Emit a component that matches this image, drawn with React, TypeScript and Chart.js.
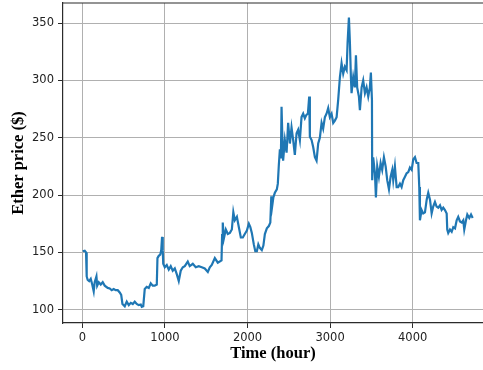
import React, { useEffect, useRef } from "react";
import { Chart, registerables } from "chart.js";

Chart.register(...registerables);

// Hourly ETH price trace (hour index, USD)
const hours: number[] = [
  4, 28, 44, 52, 64, 82, 101, 119, 137, 149, 170, 179, 198, 222, 246, 270, 307, 331, 355, 379,
  403, 428, 452, 470, 485, 513, 537, 562, 586, 610, 634, 658, 682, 707, 719, 737, 755, 779, 804, 828,
  852, 876, 901, 909, 925, 943, 955, 965, 973, 979, 998, 1022, 1046, 1070, 1094, 1119, 1143, 1167, 1191, 1216,
  1240, 1276, 1300, 1337, 1373, 1409, 1446, 1482, 1519, 1543, 1567, 1604, 1640, 1685, 1692, 1700, 1713, 1737, 1761, 1786,
  1810, 1828, 1846, 1871, 1895, 1919, 1943, 1967, 1992, 2016, 2034, 2052, 2076, 2094, 2113, 2131, 2149, 2173, 2192, 2210,
  2234, 2258, 2276, 2288, 2298, 2313, 2331, 2355, 2367, 2379, 2392, 2404, 2412, 2422, 2431, 2452, 2473, 2492, 2513, 2533,
  2553, 2573, 2594, 2613, 2634, 2654, 2674, 2694, 2713, 2731, 2747, 2755, 2776, 2795, 2816, 2836, 2856, 2876, 2897, 2916,
  2937, 2957, 2977, 2997, 3018, 3038, 3058, 3079, 3098, 3119, 3139, 3159, 3179, 3200, 3212, 3228, 3240, 3252, 3260, 3280,
  3300, 3313, 3328, 3349, 3361, 3382, 3401, 3422, 3442, 3462, 3482, 3494, 3507, 3510, 3522, 3543, 3555, 3571, 3591, 3612,
  3631, 3652, 3673, 3692, 3713, 3733, 3753, 3765, 3785, 3806, 3825, 3846, 3866, 3886, 3907, 3927, 3947, 3967, 3988, 4007,
  4028, 4048, 4068, 4080, 4088, 4108, 4128, 4149, 4170, 4189, 4210, 4230, 4249, 4270, 4290, 4310, 4331, 4351, 4371, 4391,
  4412, 4419, 4431, 4452, 4473, 4492, 4513, 4533, 4552, 4573, 4594, 4613, 4625, 4646, 4662, 4686, 4707, 4727,
];

const prices: number[] = [
  151, 151.5, 150, 129, 126, 125, 127, 122, 116, 124, 129, 121, 124, 122, 124, 121, 119, 118.5, 117, 118,
  117, 117, 115, 113, 105, 103, 107, 104, 106, 105, 107, 105, 104, 104.5, 102.5, 103, 118, 120, 119, 123,
  121, 121, 122, 145, 147, 148, 152, 163.5, 152, 140, 137, 139, 135, 138, 134, 136, 131, 125, 134, 137,
  138, 142, 138, 140, 137, 138, 137, 136, 133, 137, 139, 145, 141, 143, 165, 176, 162, 170, 166, 167,
  170, 185, 178, 181, 172, 163, 163, 166, 169, 175, 172, 167, 157, 151, 151, 157, 154, 152, 156, 166,
  171, 173, 176, 199, 190, 198, 202, 205, 210, 226, 240, 232, 277, 250, 230, 248, 237, 263, 245, 259,
  248, 235, 254, 257, 248, 268, 271, 267, 270, 271, 286, 251, 248, 242, 233, 230, 245, 250, 263, 258,
  268, 271, 276, 268, 271, 263, 265, 268, 283, 303, 315, 306, 312, 309, 333, 355, 333, 303, 289, 303,
  294, 322, 294, 286, 274, 294, 300, 289, 294, 286, 294, 307, 283, 213, 233, 219, 198, 225, 216, 228,
  222, 233, 225, 213, 205, 216, 222, 213, 225, 207, 207, 210, 207, 213, 216, 219, 220, 224, 222, 231,
  233, 228, 228, 207, 178, 187, 184, 185, 196, 202, 196, 184, 190, 194, 190, 189, 191, 187, 189, 187,
  184, 170, 167, 170, 168, 172, 171, 178, 181, 177, 176, 178, 170, 178, 183, 180, 183, 180,
];

const xTickValues: number[] = [0, 1000, 2000, 3000, 4000];
const yTickValues: number[] = [100, 150, 200, 250, 300, 350];

const xLabel = "Time (hour)";
const yLabel = "Ether price ($)";

const SPINE = "#2b2b2b";
const GRID = "#b0b0b0";
const LINE = "#1f77b4";

const tickFont = { family: "'DejaVu Sans', sans-serif", size: 11.5 };
const titleFont = { family: "'Liberation Serif', 'Times New Roman', serif", size: 16.5, weight: "bold" as const };

// Draws the upper frame edge of the plotting area
const topFrame = {
  id: "topFrame",
  afterDraw(chart: Chart) {
    const { ctx, chartArea } = chart;
    ctx.save();
    ctx.strokeStyle = SPINE;
    ctx.lineWidth = 1.2;
    ctx.beginPath();
    ctx.moveTo(chartArea.left, chartArea.top);
    ctx.lineTo(chartArea.right, chartArea.top);
    ctx.stroke();
    ctx.restore();
  },
};

// Fixes each axis box to a set size and drops label overhang padding
const fixBox = (size: number) => (scale: any) => {
  if (scale.isHorizontal()) {
    scale.height = size;
    scale.paddingLeft = 0;
    scale.paddingRight = 0;
  } else {
    scale.width = size;
    scale.paddingTop = 0;
    scale.paddingBottom = 0;
  }
};

export default function App() {
  const canvasRef = useRef<HTMLCanvasElement | null>(null);

  useEffect(() => {
    const canvas = canvasRef.current;
    if (!canvas) return;
    const points = hours.map((h, i) => ({ x: h, y: prices[i] }));

    const chart = new Chart(canvas, {
      type: "line",
      data: {
        datasets: [
          {
            data: points,
            borderColor: LINE,
            borderWidth: 2.2,
            pointRadius: 0,
            tension: 0,
            fill: false,
          },
        ],
      },
      plugins: [topFrame],
      options: {
        animation: false,
        responsive: false,
        devicePixelRatio: 1,
        layout: { padding: { top: 3, right: 0, left: 0, bottom: 0 } },
        plugins: {
          legend: { display: false },
          tooltip: { enabled: false },
        },
        scales: {
          x: {
            type: "linear",
            min: -235,
            max: 4852,
            afterBuildTicks: (scale: any) => {
              scale.ticks = xTickValues.map((v) => ({ value: v }));
            },
            afterFit: fixBox(47),
            ticks: {
              color: "#222",
              font: tickFont,
              padding: 3,
              maxRotation: 0,
              callback: (v: any) => String(v),
            },
            grid: {
              color: GRID,
              lineWidth: 1,
              tickColor: SPINE,
              tickLength: 5,
              tickWidth: 1,
            },
            border: { color: SPINE, width: 1.2 },
            title: {
              display: true,
              text: xLabel,
              color: "#000",
              font: titleFont,
              padding: { top: 0, bottom: 6 },
            },
          },
          y: {
            type: "linear",
            min: 88.4,
            max: 367.6,
            afterBuildTicks: (scale: any) => {
              scale.ticks = yTickValues.map((v) => ({ value: v }));
            },
            afterFit: fixBox(63),
            ticks: {
              color: "#222",
              font: tickFont,
              padding: 4,
              callback: (v: any) => String(v),
            },
            grid: {
              color: GRID,
              lineWidth: 1,
              tickColor: SPINE,
              tickLength: 5,
              tickWidth: 1,
            },
            border: { color: SPINE, width: 1.2 },
            title: {
              display: true,
              text: yLabel,
              color: "#000",
              font: titleFont,
              padding: { top: 9, bottom: 0 },
            },
          },
        },
      },
    });

    return () => chart.destroy();
  }, []);

  return (
    <div style={{ position: "absolute", left: 0, top: 0, width: 483, height: 370, background: "#fff" }}>
      <canvas ref={canvasRef} width={483} height={370} style={{ display: "block" }} />
    </div>
  );
}
